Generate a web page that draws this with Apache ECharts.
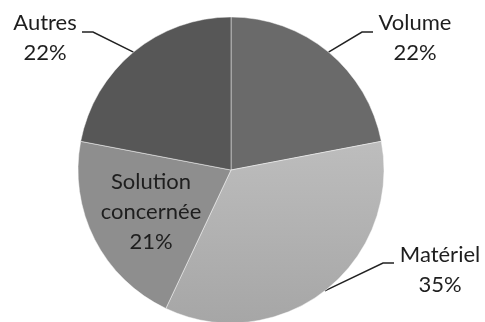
<!DOCTYPE html>
<html><head><meta charset="utf-8">
<script src="https://cdn.jsdelivr.net/npm/echarts@6/dist/echarts.min.js"></script>
<style>html,body{margin:0;padding:0;background:#fff}#c{width:485px;height:322px}</style>
</head><body><div id="c"></div>
<script>
const categories = ['Volume', 'Matériel', 'Solution concernée', 'Autres'];
const labelNames = ['Volume', 'Matériel', 'Solution\nconcernée', 'Autres'];
const values = [22, 35, 21, 22];
const colors = ['#6a6a6a', '#b3b3b3', '#8e8e8e', '#575757'];

// label layout: text centre and leader end (style only)
const labelPos = [
  {x: 415, y: 38, lineY: 32, endX: 373, side: 1},
  {x: 440, y: 270, lineY: 263, endX: 394, side: 1},
  {x: 151, y: 212},
  {x: 45, y: 38, lineY: 32, endX: 82, side: -1}
];

const chart = echarts.init(document.getElementById('c'), null, {renderer: 'canvas'});
const data = categories.map((c, i) => {
  const item = {
    name: c, value: values[i],
    itemStyle: {color: i === 1 ? {type: 'linear', x: 0, y: 0, x2: 0, y2: 1, colorStops: [{offset: 0, color: '#bdbdbd'}, {offset: 1, color: '#a6a6a6'}]} : colors[i]},
    label: {formatter: labelNames[i] + '\n' + values[i] + '%'}
  };
  if (i === 2) {
    item.label.position = 'inside';
    item.labelLine = {show: false};
  }
  return item;
});
chart.setOption({
  animation: false,
  series: [{
    type: 'pie',
    center: [231, 170],
    radius: 153,
    startAngle: 90,
    clockwise: true,
    avoidLabelOverlap: false,
    itemStyle: {borderColor: 'rgba(255,255,255,0.45)', borderWidth: 1},
    label: {
      show: true,
      position: 'outside',
      fontFamily: 'Lato',
      fontSize: 22,
      lineHeight: 30,
      color: '#1e1e1e',
      align: 'center'
    },
    labelLine: {show: true, length: 28, length2: 12, lineStyle: {color: '#222', width: 1.5}},
    labelLayout: function (p) {
      const L = labelPos[p.dataIndex];
      const out = {x: L.x, y: L.y, align: 'center', verticalAlign: 'middle'};
      if (L.side && p.labelLinePoints) {
        const s = p.labelLinePoints[0];
        out.labelLinePoints = [[s[0], s[1]], [L.endX - L.side * 11, L.lineY], [L.endX, L.lineY]];
      }
      return out;
    },
    data: data
  }]
});
</script></body></html>
